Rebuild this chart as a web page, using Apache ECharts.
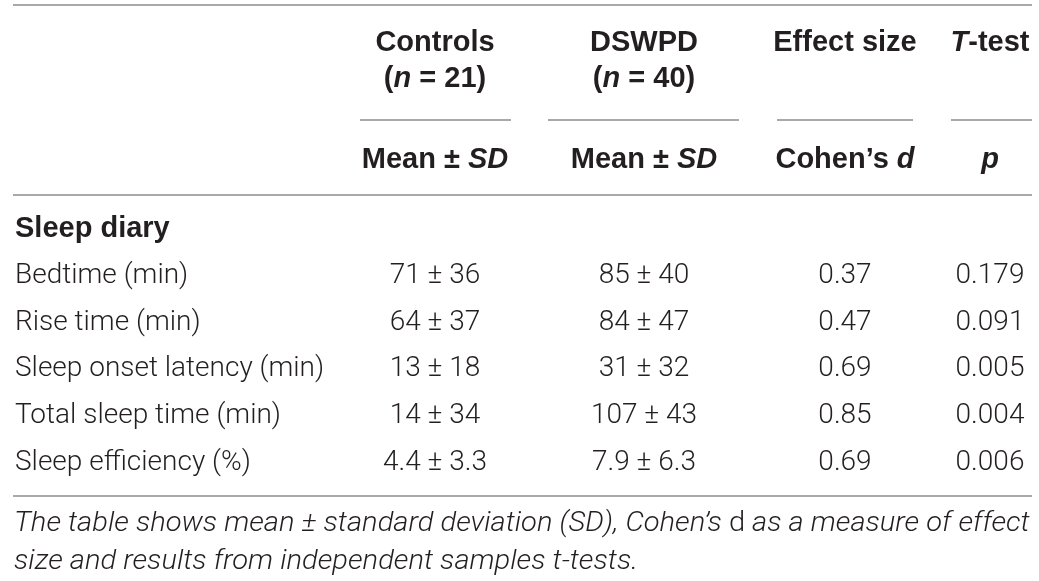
<!DOCTYPE html>
<html>
<head>
<meta charset="utf-8">
<script src="https://cdn.jsdelivr.net/npm/echarts@6/dist/echarts.min.js"></script>
<style>
  html, body { margin: 0; padding: 0; background: #fff; }
  #main { width: 1039px; height: 581px; }
</style>
</head>
<body>
<div id="main"></div>
<script>
// table content
var groupHeads = ['Controls', 'DSWPD', 'Effect size', 'T-test'];
var groupSizes = ['21', '40', '', ''];
var statHeads = ['Mean ± SD', 'Mean ± SD', 'Cohen\u2019s d', 'p'];
var sectionName = 'Sleep diary';
var rowLabels = [
  'Bedtime (min)',
  'Rise time (min)',
  'Sleep onset latency (min)',
  'Total sleep time (min)',
  'Sleep efficiency (%)'
];
var controlsMean = [71, 64, 13, 14, 4.4];
var controlsSD = [36, 37, 18, 34, 3.3];
var dswpdMean = [85, 84, 31, 107, 7.9];
var dswpdSD = [40, 47, 32, 43, 6.3];
var cohensD = [0.37, 0.47, 0.69, 0.85, 0.69];
var pValues = [0.179, 0.091, 0.005, 0.004, 0.006];
var captionLines = [
  'The table shows mean ± standard deviation (SD), Cohen\u2019s d as a measure of effect',
  'size and results from independent samples t-tests.'
];

// layout
var W = 1039;
var colX = [15, 435, 644, 845, 990];
var underlines = [[360, 511], [548, 739], [777, 913], [951, 1032]];
var ruleLeft = 13, ruleRight = 1032;
var ink = '#231f20';
var ruleColor = '#8c8c8c';
var bodyFont = 'Roboto';
var headFont = 'Liberation Sans';
var fs = 28;
var headFs = 29;

var chartDom = document.getElementById('main');
var myChart = echarts.init(chartDom);

// body cells: [column, rowIndex, text, bold]
var rowKeys = [sectionName].concat(rowLabels);
var cells = [[0, 0, sectionName, true]];
rowLabels.forEach(function (label, i) {
  var r = i + 1;
  cells.push([0, r, label, false]);
  cells.push([1, r, controlsMean[i] + ' ± ' + controlsSD[i], false]);
  cells.push([2, r, dswpdMean[i] + ' ± ' + dswpdSD[i], false]);
  cells.push([3, r, String(cohensD[i]), false]);
  cells.push([4, r, String(pValues[i]), false]);
});

var headRich = {
  b: { fontFamily: headFont, fontWeight: 'bold', fontSize: headFs, fill: ink },
  bi: { fontFamily: headFont, fontWeight: 'bold', fontStyle: 'italic', fontSize: headFs, fill: ink }
};

function headText(x, y, text) {
  return {
    type: 'text',
    x: x,
    y: y,
    silent: true,
    style: {
      text: text,
      textAlign: 'center',
      textVerticalAlign: 'middle',
      rich: headRich
    }
  };
}

function rule(x1, x2, y) {
  return {
    type: 'line',
    silent: true,
    shape: { x1: x1, y1: y, x2: x2, y2: y },
    style: { stroke: ruleColor, lineWidth: 1.5 }
  };
}

function buildGraphic() {
  var px = function (v) { return myChart.convertToPixel({ xAxisIndex: 0 }, v); };
  var g = [];
  g.push(rule(ruleLeft, ruleRight, 5));
  g.push(rule(ruleLeft, ruleRight, 195));
  g.push(rule(ruleLeft, ruleRight, 496));
  underlines.forEach(function (u) { g.push(rule(u[0], u[1], 120)); });

  var groupRich = [
    '{b|Controls}',
    '{b|DSWPD}',
    '{b|Effect size}',
    '{bi|T}{b|-test}'
  ];
  groupHeads.forEach(function (h, i) {
    g.push(headText(px(colX[i + 1]), 43, groupRich[i]));
    if (groupSizes[i]) {
      g.push(headText(px(colX[i + 1]), 79, '{b|(}{bi|n}{b| = ' + groupSizes[i] + ')}'));
    }
  });
  var statRich = statHeads.map(function (s) {
    if (s === 'Mean ± SD') return '{b|Mean ± }{bi|SD}';
    if (s === 'p') return '{bi|p}';
    return '{b|Cohen\u2019s }{bi|d}';
  });
  statRich.forEach(function (s, i) {
    g.push(headText(px(colX[i + 1]), 160, s));
  });

  var capRich = {
    i: { fontFamily: bodyFont, fontWeight: 300, fontStyle: 'italic', fontSize: 28, fill: ink },
    u: { fontFamily: bodyFont, fontWeight: 300, fontSize: 28, fill: ink }
  };
  captionLines.forEach(function (line, k) {
    var parts = line.split('Cohen\u2019s d');
    var txt = parts.length > 1
      ? '{i|' + parts[0] + 'Cohen\u2019s }{u|d}{i|' + parts[1] + '}'
      : '{i|' + line + '}';
    g.push({
      type: 'text',
      x: 14,
      y: [524, 562][k],
      scaleX: 1.04,
      silent: true,
      style: { text: txt, textVerticalAlign: 'middle', rich: capRich }
    });
  });
  return g;
}

var option = {
  animation: false,
  backgroundColor: '#fff',
  grid: { left: 0, right: 0, top: 206, height: 280 },
  xAxis: { type: 'value', min: 0, max: W, show: false },
  yAxis: { type: 'category', inverse: true, data: rowKeys, show: false },
  series: [
    {
      type: 'custom',
      silent: true,
      data: cells.map(function (c) { return [c[0], c[1]]; }),
      encode: { x: 0, y: 1 },
      renderItem: function (params, api) {
        var cell = cells[params.dataIndex];
        var pt = api.coord([colX[api.value(0)], api.value(1)]);
        return {
          type: 'text',
          x: pt[0],
          y: pt[1],
          style: {
            text: cell[2],
            fontFamily: cell[3] ? headFont : bodyFont,
            fontWeight: cell[3] ? 'bold' : 300,
            fontSize: cell[3] ? headFs : fs,
            fill: ink,
            textAlign: cell[0] === 0 ? 'left' : 'center',
            textVerticalAlign: 'middle'
          }
        };
      }
    }
  ]
};

myChart.setOption(option);
myChart.setOption({ graphic: buildGraphic() });
</script>
</body>
</html>
